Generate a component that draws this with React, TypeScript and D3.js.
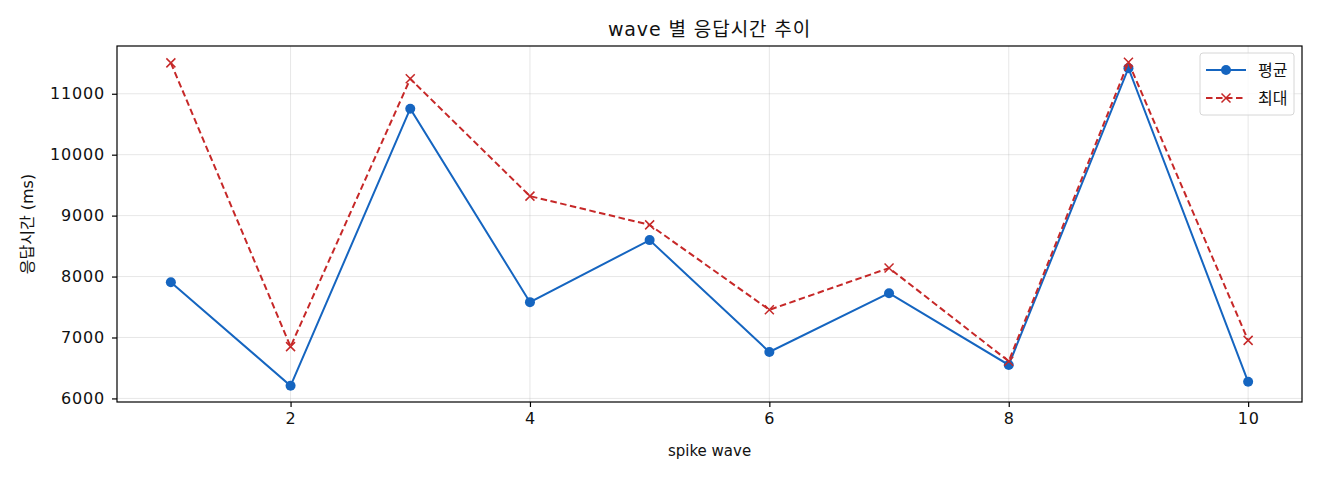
import { useEffect, useRef } from 'react'
import * as d3 from 'd3'

const waves = [1, 2, 3, 4, 5, 6, 7, 8, 9, 10]
const avgMs = [7906, 6207, 10755, 7580, 8598, 6763, 7727, 6550, 11420, 6273]
const maxMs = [11507, 6850, 11245, 9320, 8848, 7454, 8140, 6610, 11518, 6953]
const xTicks = [2, 4, 6, 8, 10]
const yTicks = [6000, 7000, 8000, 9000, 10000, 11000]

const W = 1320
const H = 480
const FONT = '"DejaVu Sans", "Noto Sans CJK KR", sans-serif'

export default function App() {
  const svgRef = useRef<SVGSVGElement>(null)

  useEffect(() => {
    if (!svgRef.current) return
    const svg = d3.select(svgRef.current)
    svg.selectAll('*').remove()

    const m = { top: 46, right: 18, bottom: 78, left: 117 }
    const iw = W - m.left - m.right
    const ih = H - m.top - m.bottom

    // matplotlib style 5% padding
    const xPad = (d3.max(waves)! - d3.min(waves)!) * 0.05
    const x = d3.scaleLinear()
      .domain([d3.min(waves)! - xPad, d3.max(waves)! + xPad])
      .range([0, iw])
    const all = [...avgMs, ...maxMs]
    const lo = d3.min(all)!, hi = d3.max(all)!
    const yPad = (hi - lo) * 0.05
    const y = d3.scaleLinear().domain([lo - yPad, hi + yPad]).range([ih, 0])

    svg.append('rect').attr('width', W).attr('height', H).attr('fill', 'white')

    const g = svg.append('g').attr('transform', `translate(${m.left},${m.top})`)

    // grid
    g.append('g').selectAll('line').data(xTicks).enter().append('line')
      .attr('x1', d => x(d)).attr('x2', d => x(d))
      .attr('y1', 0).attr('y2', ih)
      .attr('stroke', '#b0b0b0').attr('stroke-opacity', 0.3).attr('stroke-width', 1)
    g.append('g').selectAll('line').data(yTicks).enter().append('line')
      .attr('x1', 0).attr('x2', iw)
      .attr('y1', d => y(d)).attr('y2', d => y(d))
      .attr('stroke', '#b0b0b0').attr('stroke-opacity', 0.3).attr('stroke-width', 1)

    // axes
    const xAxis = g.append('g').attr('transform', `translate(0,${ih})`)
      .call(d3.axisBottom(x).tickValues(xTicks).tickSize(5).tickPadding(6).tickFormat(d3.format('d')))
    const yAxis = g.append('g')
      .call(d3.axisLeft(y).tickValues(yTicks).tickSize(5).tickPadding(7).tickFormat(d3.format('d')))
    for (const a of [xAxis, yAxis]) {
      a.select('.domain').remove()
      a.selectAll('line').attr('stroke', '#000').attr('stroke-width', 1.2)
      a.selectAll('text').attr('fill', '#111').style('font-size', '16px')
        .style('font-family', FONT).style('letter-spacing', '0.8px')
    }

    g.append('rect').attr('width', iw).attr('height', ih)
      .attr('fill', 'none').attr('stroke', '#000').attr('stroke-width', 1.2)

    const line = d3.line<number>().x((_, i) => x(waves[i])).y(d => y(d))

    // avg series
    g.append('path').datum(avgMs).attr('d', line)
      .attr('fill', 'none').attr('stroke', '#1565c0').attr('stroke-width', 2)
    g.append('g').selectAll('circle').data(avgMs).enter().append('circle')
      .attr('cx', (_, i) => x(waves[i])).attr('cy', d => y(d)).attr('r', 5)
      .attr('fill', '#1565c0')

    // max series
    g.append('path').datum(maxMs).attr('d', line)
      .attr('fill', 'none').attr('stroke', '#c62828').attr('stroke-width', 2)
      .attr('stroke-dasharray', '6.5,3.5')
    const cross = (sel: d3.Selection<SVGGElement, unknown, null, undefined>, cx: number, cy: number, s: number) => {
      sel.append('path')
        .attr('d', `M${cx - s},${cy - s}L${cx + s},${cy + s}M${cx - s},${cy + s}L${cx + s},${cy - s}`)
        .attr('stroke', '#c62828').attr('stroke-width', 1.5).attr('fill', 'none')
    }
    const marks = g.append('g')
    maxMs.forEach((v, i) => cross(marks, x(waves[i]), y(v), 4.5))

    // title and labels
    svg.append('text').attr('x', m.left + iw / 2).attr('y', 36)
      .attr('text-anchor', 'middle').style('font-size', '19px').style('font-family', FONT)
      .style('letter-spacing', '0.9px')
      .attr('fill', '#111').text('wave 별 응답시간 추이')
    svg.append('text').attr('x', m.left + iw / 2).attr('y', 456)
      .attr('text-anchor', 'middle').style('font-size', '15px').style('font-family', FONT)
      .attr('fill', '#111').text('spike wave')
    svg.append('text')
      .attr('transform', `translate(33,${m.top + ih / 2}) rotate(-90)`)
      .attr('text-anchor', 'middle').style('font-size', '16px').style('font-family', FONT)
      .attr('fill', '#111').text('응답시간 (ms)')

    // legend
    const lg = svg.append('g').attr('transform', `translate(${m.left + iw - 102},${m.top + 7})`)
    lg.append('rect').attr('width', 94).attr('height', 62).attr('rx', 3)
      .attr('fill', 'white').attr('fill-opacity', 0.8)
      .attr('stroke', '#d6d6d6').attr('stroke-width', 1)
    const items = [
      { name: '평균', color: '#1565c0', dash: null, mark: 'o' },
      { name: '최대', color: '#c62828', dash: '6.5,3.5', mark: 'x' },
    ]
    items.forEach((it, i) => {
      const cy = 17 + i * 28
      lg.append('line').attr('x1', 6).attr('x2', 46).attr('y1', cy).attr('y2', cy)
        .attr('stroke', it.color).attr('stroke-width', 2)
        .attr('stroke-dasharray', it.dash)
      if (it.mark === 'o') lg.append('circle').attr('cx', 26).attr('cy', cy).attr('r', 5).attr('fill', it.color)
      else cross(lg, 26, cy, 4.5)
      lg.append('text').attr('x', 58).attr('y', cy + 6)
        .style('font-size', '16px').style('font-family', FONT).attr('fill', '#111').text(it.name)
    })
  }, [])

  return <svg ref={svgRef} width={W} height={H} style={{ display: 'block', margin: -8 }} />
}
